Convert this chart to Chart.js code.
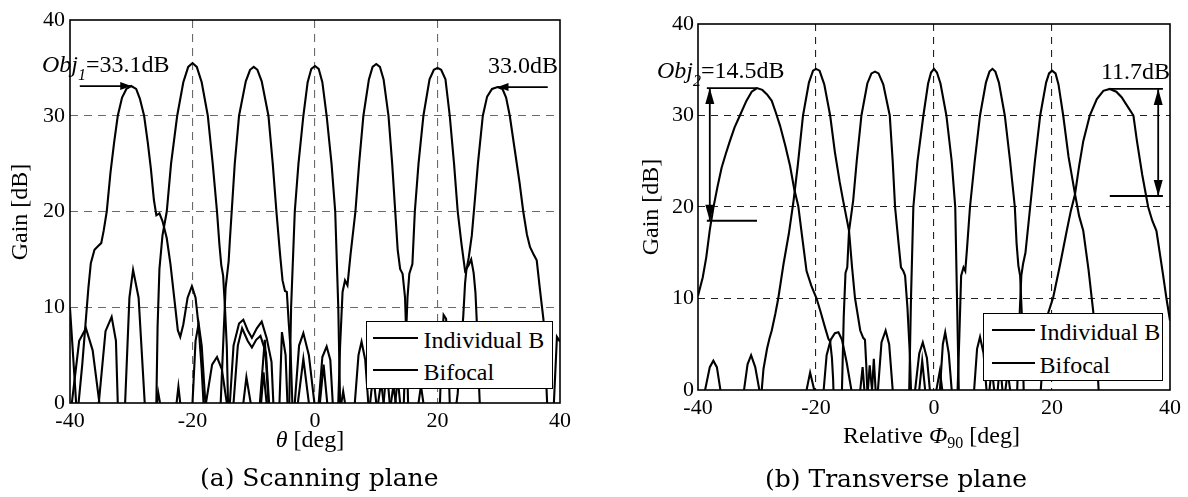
<!DOCTYPE html>
<html>
<head>
<meta charset="utf-8">
<title>Gain patterns</title>
<script src="https://cdn.jsdelivr.net/npm/chart.js@4.4.1/dist/chart.umd.min.js"></script>
<style>
  html, body { margin: 0; padding: 0; background: #fff; }
  body { position: relative; width: 1188px; height: 497px; overflow: hidden;
         font-family: "Liberation Serif", "Times New Roman", serif; color: #000; }
  canvas { position: absolute; top: 0; }
  #scan { left: 0; }
  #trans { left: 600px; }
  .txt { position: absolute; white-space: nowrap; font-size: 24px; line-height: 24px; }
  .ytitle { width: 200px; height: 24px; text-align: center; transform: rotate(-90deg); }
  .caption { font-family: "DejaVu Serif", serif; font-size: 25px; line-height: 25px; }
  .legend { position: absolute; box-sizing: border-box; border: 1.5px solid #000; background: #fff; }
  .legend .swatch { position: absolute; height: 0; border-top: 2px solid #000; }
  .legend .name { position: absolute; white-space: nowrap; font-size: 24px; line-height: 24px; }
  sub { font-size: 16px; vertical-align: -5px; line-height: 0; }
</style>
</head>
<body>
<canvas id="scan" width="590" height="440"></canvas>
<canvas id="trans" width="588" height="432"></canvas>

<div class="txt ytitle" style="left:-81px; top:200px">Gain [dB]</div>
<div class="txt ytitle" style="left:550px; top:195px">Gain [dB]</div>
<div class="txt" style="left:210px; top:427px; width:200px; text-align:center"><i>θ</i> [deg]</div>
<div class="txt" style="left:843px; top:423px">Relative <i>Φ</i><sub>90</sub> [deg]</div>
<div class="txt caption" style="left:200px; top:465px">(a) Scanning plane</div>
<div class="txt caption" style="left:765px; top:466px">(b) Transverse plane</div>

<div class="legend" style="left:366px; top:321px; width:187px; height:68px">
  <div class="swatch" style="left:5.5px; top:14.5px; width:45px"></div>
  <div class="name" style="left:56.5px; top:5.5px">Individual B</div>
  <div class="swatch" style="left:5.5px; top:46.5px; width:45px"></div>
  <div class="name" style="left:56.5px; top:37.5px">Bifocal</div>
</div>
<div class="legend" style="left:983px; top:313px; width:180px; height:68px">
  <div class="swatch" style="left:7.5px; top:14.5px; width:43px"></div>
  <div class="name" style="left:55.5px; top:5.5px">Individual B</div>
  <div class="swatch" style="left:7.5px; top:47.5px; width:43px"></div>
  <div class="name" style="left:55.5px; top:38.5px">Bifocal</div>
</div>

<script>
// axis ticks shared by both planes
const thetaTicks = [-40, -20, 0, 20, 40];
const gainTicks = [0, 10, 20, 30, 40];

// scanning plane: main beams at -30..30 deg, [theta, gain dB]
const scanMain = [
  [[-38.9,-3],[-38.6,0],[-38.0,4],[-37.5,8],[-37.0,12],[-36.6,14.6],[-36.0,16.0],[-35.4,16.4],[-34.9,16.7],[-34.5,18.0],[-34.0,20.0],[-33.4,24.0],[-32.8,27.2],[-32.2,30.0],[-31.5,31.9],[-30.8,32.8],[-30.0,33.1],[-29.2,32.8],[-28.6,31.8],[-27.9,30.0],[-27.3,27.2],[-26.8,24.5],[-26.3,21.2],[-25.9,19.6],[-25.4,19.8],[-24.9,19.0],[-24.2,17.2],[-23.6,14.5],[-22.9,10.5],[-22.4,7.6],[-22.0,6.9],[-21.5,8.2],[-20.8,11.0],[-20.1,12.2],[-19.5,11.0],[-19.0,8.0],[-18.5,3.5],[-18.2,0],[-18.0,-3]],
  [[-26.1,-3],[-25.9,0],[-25.7,8],[-25.4,14],[-24.9,17.5],[-24.2,20],[-23.5,25],[-22.5,30],[-21.5,33.5],[-20.7,35.1],[-20.0,35.5],[-19.3,35.1],[-18.5,33.5],[-17.5,30],[-16.7,25],[-16.0,20],[-15.6,16.5],[-15.3,14.4],[-15.0,13.3],[-14.7,10],[-14.4,5.9],[-14.2,0],[-14.0,-3]],
  [[-15.6,-3],[-15.4,0],[-15.0,6],[-14.6,12.0],[-14.1,14.8],[-13.9,17],[-13.6,20],[-13.1,25],[-12.4,30],[-11.3,33.6],[-10.6,34.8],[-10.0,35.1],[-9.4,34.8],[-8.7,33.6],[-7.6,30],[-6.9,25],[-6.3,20],[-5.7,15.5],[-5.3,12.8],[-4.9,11.7],[-4.6,11.6],[-4.3,8.5],[-4.0,5.7],[-3.7,0],[-3.5,-3]],
  [[-4.4,-3],[-4.2,0],[-3.9,10],[-3.3,20],[-2.7,25],[-1.9,30],[-1.2,33.5],[-0.6,34.9],[0,35.2],[0.6,34.9],[1.2,33.5],[1.9,30],[2.7,25],[3.3,20],[3.8,10],[4.1,0],[4.3,-3]],
  [[3.6,-3],[3.8,0],[4.1,6],[4.5,11.6],[4.9,12.8],[5.3,12.3],[5.8,15.5],[6.6,20],[7.2,25],[7.9,30],[8.8,33.8],[9.4,35.1],[10,35.4],[10.6,35.1],[11.2,33.8],[12.0,30],[12.6,25],[13.1,20],[13.5,16],[13.9,14],[14.3,13.5],[14.7,11],[15.0,5],[15.2,0],[15.4,-3]],
  [[14.3,-3],[14.5,0],[14.8,6],[15.1,11],[15.4,13.5],[15.9,14.5],[16.3,20],[16.9,25],[17.7,30],[18.7,33.8],[19.4,34.8],[20,35.0],[20.6,34.8],[21.3,33.8],[22.0,30],[22.7,25],[23.3,20],[23.9,16.7],[24.5,13.8],[25.1,14.4],[25.5,15.0],[25.9,13.6],[26.2,11.5],[26.4,8.7],[26.7,3],[26.9,0],[27.0,-3]],
  [[23.0,-3],[23.1,0],[23.3,1],[23.7,5],[24.2,9],[24.5,12.5],[24.7,13.8],[25.1,15.2],[25.6,17.5],[26.1,21.2],[26.6,25],[27.4,30],[28.1,32.0],[28.9,32.8],[29.8,33.0],[30.6,32.8],[31.2,31.9],[31.8,30.0],[32.6,26.5],[33.4,23.0],[34.0,20.0],[34.6,17.6],[35.1,16.3],[35.7,15.5],[36.2,14.9],[36.7,12],[37.3,8.7],[37.7,3],[37.9,0],[38.1,-3]]
];

// scanning plane: side lobes below 15 dB
const scanSide = [
  [[-40,9.9],[-39.5,5],[-39.0,0],[-38.8,-3]],
  [[-39.9,-3],[-39.7,0],[-38.5,6.5],[-37.4,7.8],[-36.3,5.5],[-35.2,0],[-35.0,-3]],
  [[-35.5,-3],[-35.3,0],[-34.2,7.5],[-33.2,9.0],[-32.5,6.5],[-32.2,0],[-32.0,-3]],
  [[-31.2,-3],[-31.0,0],[-30.3,11],[-29.7,13.9],[-28.8,11],[-27.8,0],[-27.6,-3]],
  [[-26.0,-3],[-25.8,0],[-25.6,1.1],[-25.3,0],[-25.1,-3]],
  [[-22.7,-3],[-22.6,0],[-22.3,1.7],[-22.0,0],[-21.8,-3]],
  [[-20.2,-3],[-20.0,0],[-19.5,6.5],[-19.0,8.3],[-18.5,6],[-17.9,0],[-17.7,-3]],
  [[-18.0,-3],[-17.8,0],[-16.8,4],[-16.0,4.8],[-15.2,3.5],[-14.4,0],[-14.2,-3]],
  [[-14.1,-3],[-13.9,0],[-13.3,6],[-12.4,8.3],[-11.7,8.7],[-11.0,7.6],[-10.3,6.8],[-9.5,7.8],[-8.7,8.5],[-7.9,6.8],[-7.1,4.3],[-6.8,0],[-6.6,-3]],
  [[-13.5,-3],[-13.3,0],[-12.6,6],[-11.9,7.8],[-11.0,6.5],[-10.3,5.8],[-9.6,6.6],[-8.9,7.0],[-8.0,5.2],[-7.5,0],[-7.3,-3]],
  [[-11.8,-3],[-11.7,0],[-11.2,2.7],[-10.5,0],[-10.3,-3]],
  [[-9.1,-3],[-9.0,0],[-8.2,6.6],[-7.6,0],[-7.4,-3]],
  [[-8.9,-3],[-8.8,0],[-8.4,3.2],[-7.9,0],[-7.8,-3]],
  [[-5.9,-3],[-5.8,0],[-5.4,7.4],[-4.8,5],[-4.5,0],[-4.4,-3]],
  [[-3.4,-3],[-3.3,0],[-2.6,6],[-1.9,7.3],[-1.0,5],[-0.1,0],[0,-3]],
  [[-3.0,-3],[-2.8,0],[-1.9,4.6],[-1.0,0],[-0.9,-3]],
  [[0.5,-3],[0.6,0],[1.2,4.8],[1.9,5.9],[2.5,4.5],[2.9,0],[3.0,-3]],
  [[0.7,-3],[0.8,0],[1.4,4.0],[2.0,0],[2.1,-3]],
  [[4.2,-3],[4.3,0],[4.6,1.2],[4.9,0],[5.0,-3]],
  [[6.4,-3],[6.5,0],[7.1,5.0],[7.6,6.4],[8.2,4.5],[8.7,0],[8.8,-3]],
  [[8.9,-3],[9.0,0],[9.5,3.0],[10.0,0],[10.1,-3]],
  [[10.2,-3],[10.3,0],[10.8,2.2],[11.2,0],[11.3,-3]],
  [[11.1,-3],[11.2,0],[11.7,3.6],[12.2,0],[12.3,-3]],
  [[12.3,-3],[12.4,0],[12.8,1.8],[13.2,0],[13.3,-3]],
  [[13.0,-3],[13.1,0],[13.5,2.6],[13.9,0],[14.0,-3]],
  [[16.8,-3],[16.9,0],[17.3,1.8],[17.7,0],[17.8,-3]],
  [[20.2,-3],[20.4,0],[20.7,6],[21.0,9.2],[21.4,8.8],[21.7,6],[22.0,0],[22.2,-3]],
  [[38.8,-3],[39.0,0],[39.5,6.9],[40.0,6.4]]
];

// transverse plane: main beams, [relative phi90, gain dB]
const transMain = [
  [[-40.0,10.3],[-39.2,12.3],[-38.6,14.5],[-38.0,17.5],[-37.4,19.9],[-36.7,22.2],[-36.0,24.3],[-35.3,25.8],[-34.6,27.2],[-33.8,28.7],[-32.9,30.0],[-31.8,31.6],[-30.9,32.6],[-30.0,33.0],[-29.1,32.8],[-28.3,32.3],[-27.5,31.6],[-26.8,30.3],[-26.1,28.9],[-25.2,26.7],[-24.4,24.5],[-23.7,22.0],[-23.0,20.1],[-22.4,17.0],[-21.6,13.0],[-20.8,11.4],[-19.9,10.0],[-19.2,8.5],[-18.5,6.9],[-17.9,5.6],[-17.6,5.3],[-17.3,3.5],[-17.1,1.2],[-16.9,-3]],
  [[-29.4,-3],[-29.2,0],[-28.9,2.3],[-28.3,4.5],[-27.9,5.6],[-27.5,6.5],[-26.9,8.3],[-26.4,10.0],[-25.5,13.8],[-24.6,17.1],[-23.8,20.7],[-23.1,24.5],[-22.2,30.0],[-21.2,33.6],[-20.5,34.9],[-20.0,35.1],[-19.4,34.9],[-18.6,33.4],[-17.6,30.0],[-16.8,26.0],[-16.0,22.8],[-15.4,20.7],[-14.4,17.4],[-13.9,13.5],[-13.4,10.1],[-12.5,6.5],[-12.0,5.7],[-11.7,5.5],[-11.5,3],[-11.3,0],[-11.1,-3]],
  [[-15.8,-3],[-15.6,0],[-15.3,8.0],[-15.0,12.8],[-14.7,13.4],[-14.4,17.4],[-13.7,20.7],[-13.1,25.0],[-12.3,30.0],[-11.3,33.5],[-10.6,34.6],[-10.0,34.8],[-9.4,34.6],[-8.6,33.4],[-7.5,30.0],[-7.0,25.0],[-6.6,20.0],[-6.0,16.0],[-5.6,13.4],[-5.2,13.0],[-4.9,12.5],[-4.5,9.0],[-4.1,4.0],[-3.9,0],[-3.7,-3]],
  [[-4.4,-3],[-4.2,0],[-3.9,10],[-3.5,20],[-2.8,25],[-1.8,30],[-1.0,33.5],[-0.5,34.7],[0,35.1],[0.5,34.7],[1.1,33.5],[2.1,30],[3.0,25],[3.6,20],[3.9,10],[4.2,0],[4.4,-3]],
  [[3.8,-3],[4.0,0],[4.3,6],[4.6,12.5],[5.0,13.4],[5.3,13.0],[5.6,15.5],[6.1,20],[6.9,25],[7.8,30],[8.8,33.6],[9.4,34.8],[9.9,35.1],[10.4,34.8],[11.0,33.6],[12.0,30],[12.9,25],[13.7,20],[14.0,16],[14.3,13.6],[14.6,12.5],[14.9,8],[15.2,0],[15.4,-3]],
  [[13.9,-3],[14.1,0],[14.5,8],[14.8,12.5],[15.1,13.8],[15.5,15],[16.3,20],[17.1,25],[18.0,30],[19.0,33.6],[19.5,34.6],[20.0,34.9],[20.6,34.6],[21.1,33.4],[21.9,30],[22.8,25.5],[23.9,21.4],[24.6,19.0],[25.3,17.4],[26.2,13.1],[27.0,8.5],[27.5,5],[27.9,0],[28.1,-3]],
  [[17.9,-3],[18.1,0],[18.5,4],[19.1,7.9],[20.2,10.1],[21.4,13.8],[22.5,17.4],[23.2,19.6],[23.9,21.4],[24.6,24.5],[25.3,27.2],[26.4,30.0],[27.6,31.8],[28.7,32.7],[29.8,32.9],[30.9,32.6],[31.8,32.0],[32.8,31.0],[33.8,30.0],[34.4,27.2],[35.3,23.5],[36.3,20.0],[37.0,18.5],[37.7,17.4],[38.8,12.7],[39.4,10],[40.0,7.6]]
];

// transverse plane: side lobes
const transSide = [
  [[-38.9,-3],[-38.8,0],[-38.0,2.5],[-37.4,3.2],[-36.8,2.5],[-36.2,0],[-36.1,-3]],
  [[-32.3,-3],[-32.2,0],[-31.6,2.8],[-31.0,3.8],[-30.3,2.5],[-29.6,0],[-29.5,-3]],
  [[-21.7,-3],[-21.6,0],[-21.0,1.9],[-20.3,0],[-20.2,-3]],
  [[-18.9,-3],[-18.7,0],[-18.2,3.8],[-17.5,5.5],[-16.8,6.2],[-16.2,6.3],[-15.6,5.5],[-14.8,3],[-14.0,0],[-13.8,-3]],
  [[-12.6,-3],[-12.5,0],[-12.1,2.5],[-11.8,0],[-11.7,-3]],
  [[-11.3,-3],[-11.2,0],[-10.9,2.7],[-10.5,0],[-10.4,-3]],
  [[-10.6,-3],[-10.5,0],[-10.2,3.4],[-9.9,0],[-9.8,-3]],
  [[-9.6,-3],[-9.5,0],[-8.9,5.2],[-8.2,6.5],[-7.6,5],[-7.0,0],[-6.9,-3]],
  [[-3.4,-3],[-3.2,0],[-2.5,4],[-1.9,5.2],[-1.2,3.5],[-0.7,0],[-0.6,-3]],
  [[-2.6,-3],[-2.5,0],[-2.0,3.2],[-1.5,0],[-1.4,-3]],
  [[0.3,-3],[0.4,0],[1.0,2.1],[1.4,0],[1.5,-3]],
  [[0.9,-3],[1.0,0],[1.5,5],[1.9,6.3],[2.5,4],[3.0,0],[3.1,-3]],
  [[6.7,-3],[6.8,0],[7.3,4.5],[7.8,5.8],[8.4,4],[8.9,0],[9.0,-3]],
  [[9.3,-3],[9.4,0],[9.8,2.4],[10.2,0],[10.3,-3]],
  [[10.7,-3],[10.8,0],[11.2,3.0],[11.6,0],[11.7,-3]],
  [[12.0,-3],[12.1,0],[12.5,2.0],[12.9,0],[13.0,-3]]
];

// outer-beam peaks called out on the scanning plane: [theta, gain]
const scanEdgePeaks = [[-30.0, 33.1], [29.8, 33.0]];
const scanArrowFrom = [-38.4, 38.0];
// transverse plane: [phi, peak gain, drop to crossover]
const transEdgeDrops = [[-30.0, 33.0, 14.5], [29.8, 32.9, 11.7]];
const transRuleEnds = [-38.5, 38.8];
const transArrowX = [-38.0, 38.0];

const serif = '"Liberation Serif", "Times New Roman", serif';

function arrowHead(ctx, x1, y1, x2, y2, len, half) {
  const a = Math.atan2(y2 - y1, x2 - x1);
  ctx.beginPath();
  ctx.moveTo(x2, y2);
  ctx.lineTo(x2 - len * Math.cos(a) + half * Math.sin(a), y2 - len * Math.sin(a) - half * Math.cos(a));
  ctx.lineTo(x2 - len * Math.cos(a) - half * Math.sin(a), y2 - len * Math.sin(a) + half * Math.cos(a));
  ctx.closePath();
  ctx.fill();
}

function segment(ctx, x1, y1, x2, y2) {
  ctx.beginPath();
  ctx.moveTo(x1, y1);
  ctx.lineTo(x2, y2);
  ctx.stroke();
}

// text made of runs: {t, it, sub}
function drawRich(ctx, parts, x, y, align, size) {
  const fontOf = p => (p.it ? 'italic ' : '') + (p.sub ? Math.round(size * 0.68) : size) + 'px ' + serif;
  let w = 0;
  const widths = parts.map(p => { ctx.font = fontOf(p); const pw = ctx.measureText(p.t).width; w += pw; return pw; });
  let cx = align === 'right' ? x - w : x;
  ctx.textBaseline = 'alphabetic';
  ctx.textAlign = 'left';
  parts.forEach((p, i) => {
    ctx.font = fontOf(p);
    ctx.fillText(p.t, cx, y + (p.sub ? size * 0.33 : 0));
    cx += widths[i];
  });
}

const framePlugin = {
  id: 'frame',
  afterDraw(chart) {
    const { ctx, chartArea: a } = chart;
    ctx.save();
    ctx.strokeStyle = '#000';
    ctx.lineWidth = 1.6;
    ctx.strokeRect(a.left, a.top, a.right - a.left, a.bottom - a.top);
    ctx.restore();
  }
};

const scanNotes = {
  id: 'scanNotes',
  afterDraw(chart) {
    const { ctx, chartArea: a, scales: { x, y } } = chart;
    ctx.save();
    ctx.fillStyle = '#000';
    ctx.strokeStyle = '#000';
    ctx.lineWidth = 1.8;
    scanEdgePeaks.forEach(([px, g], i) => {
      const x1 = x.getPixelForValue(scanArrowFrom[i]), x2 = x.getPixelForValue(px), yy = y.getPixelForValue(g);
      segment(ctx, x1, yy, x2, yy);
      arrowHead(ctx, x1, yy, x2, yy, 11, 4);
      if (i === 0) {
        drawRich(ctx, [{ t: 'Obj', it: true }, { t: '1', it: true, sub: true }, { t: '=' + g.toFixed(1) + 'dB' }],
          a.left - 28, yy - 14, 'left', 24);
      } else {
        drawRich(ctx, [{ t: g.toFixed(1) + 'dB' }], a.right - 2, yy - 14, 'right', 24);
      }
    });
    ctx.restore();
  }
};

const transNotes = {
  id: 'transNotes',
  afterDraw(chart) {
    const { ctx, chartArea: a, scales: { x, y } } = chart;
    ctx.save();
    ctx.fillStyle = '#000';
    ctx.strokeStyle = '#000';
    ctx.lineWidth = 1.8;
    transEdgeDrops.forEach(([px, g, drop], i) => {
      const xp = x.getPixelForValue(px), xo = x.getPixelForValue(transRuleEnds[i]);
      const yTop = y.getPixelForValue(g), yBot = y.getPixelForValue(g - drop);
      const xa = x.getPixelForValue(transArrowX[i]);
      segment(ctx, xo, yTop, xp, yTop);
      segment(ctx, xo, yBot, xp, yBot);
      segment(ctx, xa, yTop, xa, yBot);
      arrowHead(ctx, xa, yBot, xa, yTop, 16, 4.5);
      arrowHead(ctx, xa, yTop, xa, yBot, 16, 4.5);
      const label = drop.toFixed(1) + 'dB';
      if (i === 0) {
        drawRich(ctx, [{ t: 'Obj', it: true }, { t: '2', it: true, sub: true }, { t: '=' + label }],
          a.left - 41, yTop - 10, 'left', 24);
      } else {
        drawRich(ctx, [{ t: label }], a.right, yTop - 10, 'right', 24);
      }
    });
    ctx.restore();
  }
};

function makeChart(id, cfg) {
  const datasets = cfg.main.concat(cfg.side).map((pts, i) => ({
    label: i < cfg.main.length ? 'Individual B' : 'Bifocal',
    data: pts,
    showLine: true,
    borderColor: '#000',
    borderWidth: 2.1,
    pointRadius: 0,
    tension: 0,
    clip: 0
  }));
  const tickFont = { family: serif, size: 22 };
  const gridColor = (ctx, lo, hi) => {
    const v = ctx.tick ? ctx.tick.value : null;
    return v === lo || v === hi ? 'rgba(0,0,0,0)' : cfg.gridColor;
  };
  return new Chart(document.getElementById(id), {
    type: 'scatter',
    data: { datasets },
    options: {
      responsive: false,
      animation: false,
      events: [],
      layout: { padding: cfg.padding },
      plugins: { legend: { display: false }, tooltip: { enabled: false } },
      scales: {
        x: {
          type: 'linear', min: -40, max: 40,
          afterBuildTicks: s => { s.ticks = thetaTicks.map(v => ({ value: v })); },
          afterFit: s => { s.height = cfg.xAxisHeight; },
          grid: { drawTicks: false, lineWidth: 1.1, color: c => gridColor(c, -40, 40) },
          border: { display: false, dash: cfg.dash },
          ticks: { color: '#000', font: tickFont, padding: 5, maxRotation: 0, autoSkip: false }
        },
        y: {
          type: 'linear', min: 0, max: 40,
          afterBuildTicks: s => { s.ticks = gainTicks.map(v => ({ value: v })); },
          afterFit: s => { s.width = cfg.yAxisWidth; },
          grid: { drawTicks: false, lineWidth: 1.1, color: c => gridColor(c, 0, 40) },
          border: { display: false, dash: cfg.dash },
          ticks: { color: '#000', font: tickFont, padding: cfg.yPad, autoSkip: false }
        }
      }
    },
    plugins: [framePlugin, cfg.notes]
  });
}

makeChart('scan', {
  main: scanMain, side: scanSide,
  padding: { top: 20, right: 30, left: 0, bottom: 0 },
  xAxisHeight: 37, yAxisWidth: 70, yPad: 5,
  gridColor: '#6a6a6a', dash: [8, 6],
  notes: scanNotes
});

makeChart('trans', {
  main: transMain, side: transSide,
  padding: { top: 24, right: 18, left: 0, bottom: 0 },
  xAxisHeight: 42, yAxisWidth: 98, yPad: 4,
  gridColor: '#222', dash: [7, 6],
  notes: transNotes
});
</script>
</body>
</html>
